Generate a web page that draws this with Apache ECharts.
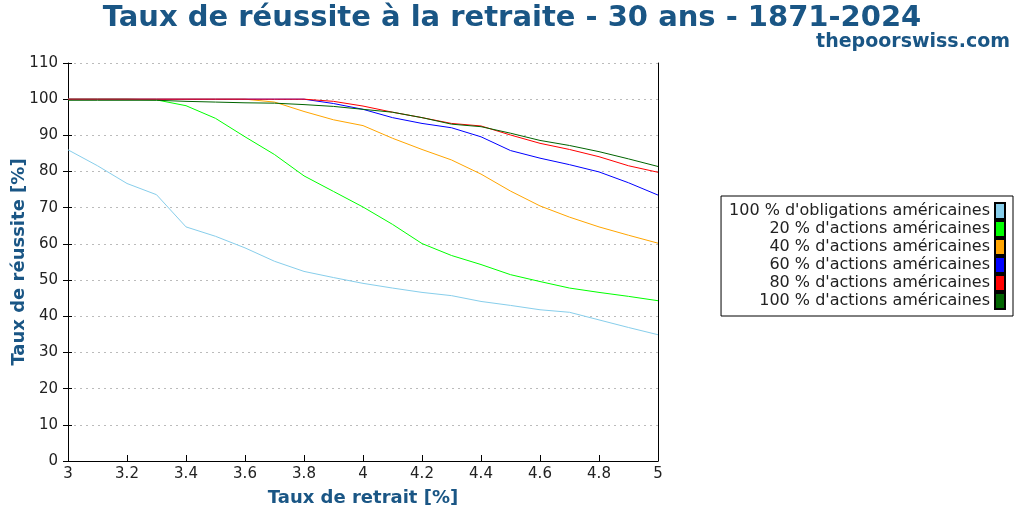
<!DOCTYPE html>
<html>
<head>
<meta charset="utf-8">
<script src="https://cdn.jsdelivr.net/npm/echarts@6/dist/echarts.min.js"></script>
<style>
  html, body { margin: 0; padding: 0; background: #fff; }
  #chart { width: 1024px; height: 512px; }
</style>
</head>
<body>
<div id="chart"></div>
<script>
// taux de retrait (%)
const withdrawalRates = [3.0, 3.1, 3.2, 3.3, 3.4, 3.5, 3.6, 3.7, 3.8, 3.9, 4.0,
  4.1, 4.2, 4.3, 4.4, 4.5, 4.6, 4.7, 4.8, 4.9, 5.0]

const seriesNames = [
  "100 % d'obligations américaines",
  "20 % d'actions américaines",
  "40 % d'actions américaines",
  "60 % d'actions américaines",
  "80 % d'actions américaines",
  "100 % d'actions américaines"
]
const seriesColors = ['#87ceeb', '#00ff00', '#ffa500', '#0000ff', '#ff0000', '#006400']

// taux de réussite (%)
const bonds100 = [86.0, 81.6, 76.7, 73.6, 64.7, 62.1, 58.9, 55.2, 52.4, 50.7, 49.1,
  47.8, 46.6, 45.7, 44.1, 43.0, 41.8, 41.1, 39.0, 36.9, 34.9]
const stocks20 = [100, 100, 100, 99.8, 98.2, 94.7, 89.6, 84.7, 78.8, 74.5, 70.2,
  65.4, 60.1, 56.8, 54.3, 51.5, 49.6, 47.8, 46.6, 45.5, 44.3]
const stocks40 = [100, 100, 100, 100, 100, 100, 100, 99.2, 96.6, 94.3, 92.7,
  89.2, 86.1, 83.2, 79.3, 74.6, 70.5, 67.4, 64.7, 62.4, 60.2]
const stocks60 = [100, 100, 100, 100, 100, 100, 100, 100, 100, 98.8, 97.2,
  94.9, 93.3, 92.1, 89.6, 85.8, 83.7, 81.9, 79.9, 76.9, 73.5]
const stocks80 = [100, 100, 100, 100, 100, 100, 100, 100, 100, 99.4, 98.1,
  96.4, 94.9, 93.3, 92.6, 90.1, 87.8, 86.1, 84.1, 81.6, 79.8]
const stocks100 = [99.7, 99.7, 99.7, 99.7, 99.4, 99.2, 99.0, 98.9, 98.5, 98.0, 97.2,
  96.4, 94.9, 93.1, 92.4, 90.6, 88.6, 87.2, 85.5, 83.5, 81.4]

const allValues = [bonds100, stocks20, stocks40, stocks60, stocks80, stocks100]

const blueTitle = '#1a5685'
const chartInstance = echarts.init(document.getElementById('chart'), null, { renderer: 'canvas' })

const seriesData = allValues.map((values, index) => {
  return {
    name: seriesNames[index],
    type: 'line',
    data: values.map((v, i) => [withdrawalRates[i], v]),
    showSymbol: false,
    animation: false,
    lineStyle: { width: 1, color: seriesColors[index] },
    itemStyle: { color: seriesColors[index], borderColor: '#000', borderWidth: 1 }
  }
})

const option = {
  backgroundColor: '#fff',
  textStyle: { fontFamily: 'DejaVu Sans' },
  title: [
    {
      text: 'Taux de réussite à la retraite - 30 ans - 1871-2024',
      left: 'center',
      top: 4,
      padding: 0,
      textStyle: { fontSize: 29, fontWeight: 'bold', color: blueTitle, fontFamily: 'DejaVu Sans' }
    },
    {
      text: 'thepoorswiss.com',
      right: 14,
      top: 33,
      padding: 0,
      textStyle: { fontSize: 19, fontWeight: 'bold', color: blueTitle, fontFamily: 'DejaVu Sans' }
    }
  ],
  legend: {
    orient: 'vertical',
    right: 11,
    top: 196,
    align: 'right',
    icon: 'rect',
    itemWidth: 10,
    itemHeight: 16,
    itemGap: 0,
    padding: [6, 7, 6, 8],
    borderColor: '#000',
    borderWidth: 1,
    selectedMode: false,
    textStyle: { fontSize: 16, color: '#222', fontFamily: 'DejaVu Sans' },
    data: seriesNames
  },
  grid: { left: 68, top: 63, width: 590, height: 398, containLabel: false, outerBoundsMode: 'none' },
  xAxis: {
    type: 'value',
    min: 3,
    max: 5,
    interval: 0.2,
    name: 'Taux de retrait [%]',
    nameLocation: 'middle',
    nameGap: 28,
    nameMoveOverlap: false,
    nameTextStyle: { fontSize: 18, fontWeight: 'bold', color: blueTitle },
    axisLine: { onZero: false, lineStyle: { color: '#000', width: 1 } },
    axisTick: { inside: true, length: 6, lineStyle: { color: '#000' } },
    axisLabel: { fontSize: 15, color: '#222', margin: 6 },
    splitLine: { show: false }
  },
  yAxis: [
    {
      type: 'value',
      min: 0,
      max: 110,
      interval: 10,
      name: 'Taux de réussite [%]',
      nameLocation: 'middle',
      nameGap: 40,
      nameMoveOverlap: false,
      nameTextStyle: { fontSize: 18, fontWeight: 'bold', color: blueTitle },
      axisLine: { show: true, lineStyle: { color: '#000', width: 1 } },
      axisTick: { show: true, length: 5, lineStyle: { color: '#000' } },
      axisLabel: { fontSize: 15, color: '#222', margin: 10 },
      splitLine: { show: true, lineStyle: { color: '#bbb', type: [2, 4], width: 1 } }
    },
    {
      // tics traversant l'axe
      type: 'value',
      min: 0,
      max: 110,
      interval: 10,
      position: 'left',
      axisLine: { show: false },
      axisTick: { show: true, inside: true, length: 4, lineStyle: { color: '#000' } },
      axisLabel: { show: false },
      splitLine: { show: false }
    },
    {
      // bord droit
      type: 'value',
      min: 0,
      max: 110,
      position: 'right',
      axisLine: { show: true, lineStyle: { color: '#000', width: 1 } },
      axisTick: { show: false },
      axisLabel: { show: false },
      splitLine: { show: false }
    }
  ],
  series: seriesData
}

chartInstance.setOption(option)
</script>
</body>
</html>
